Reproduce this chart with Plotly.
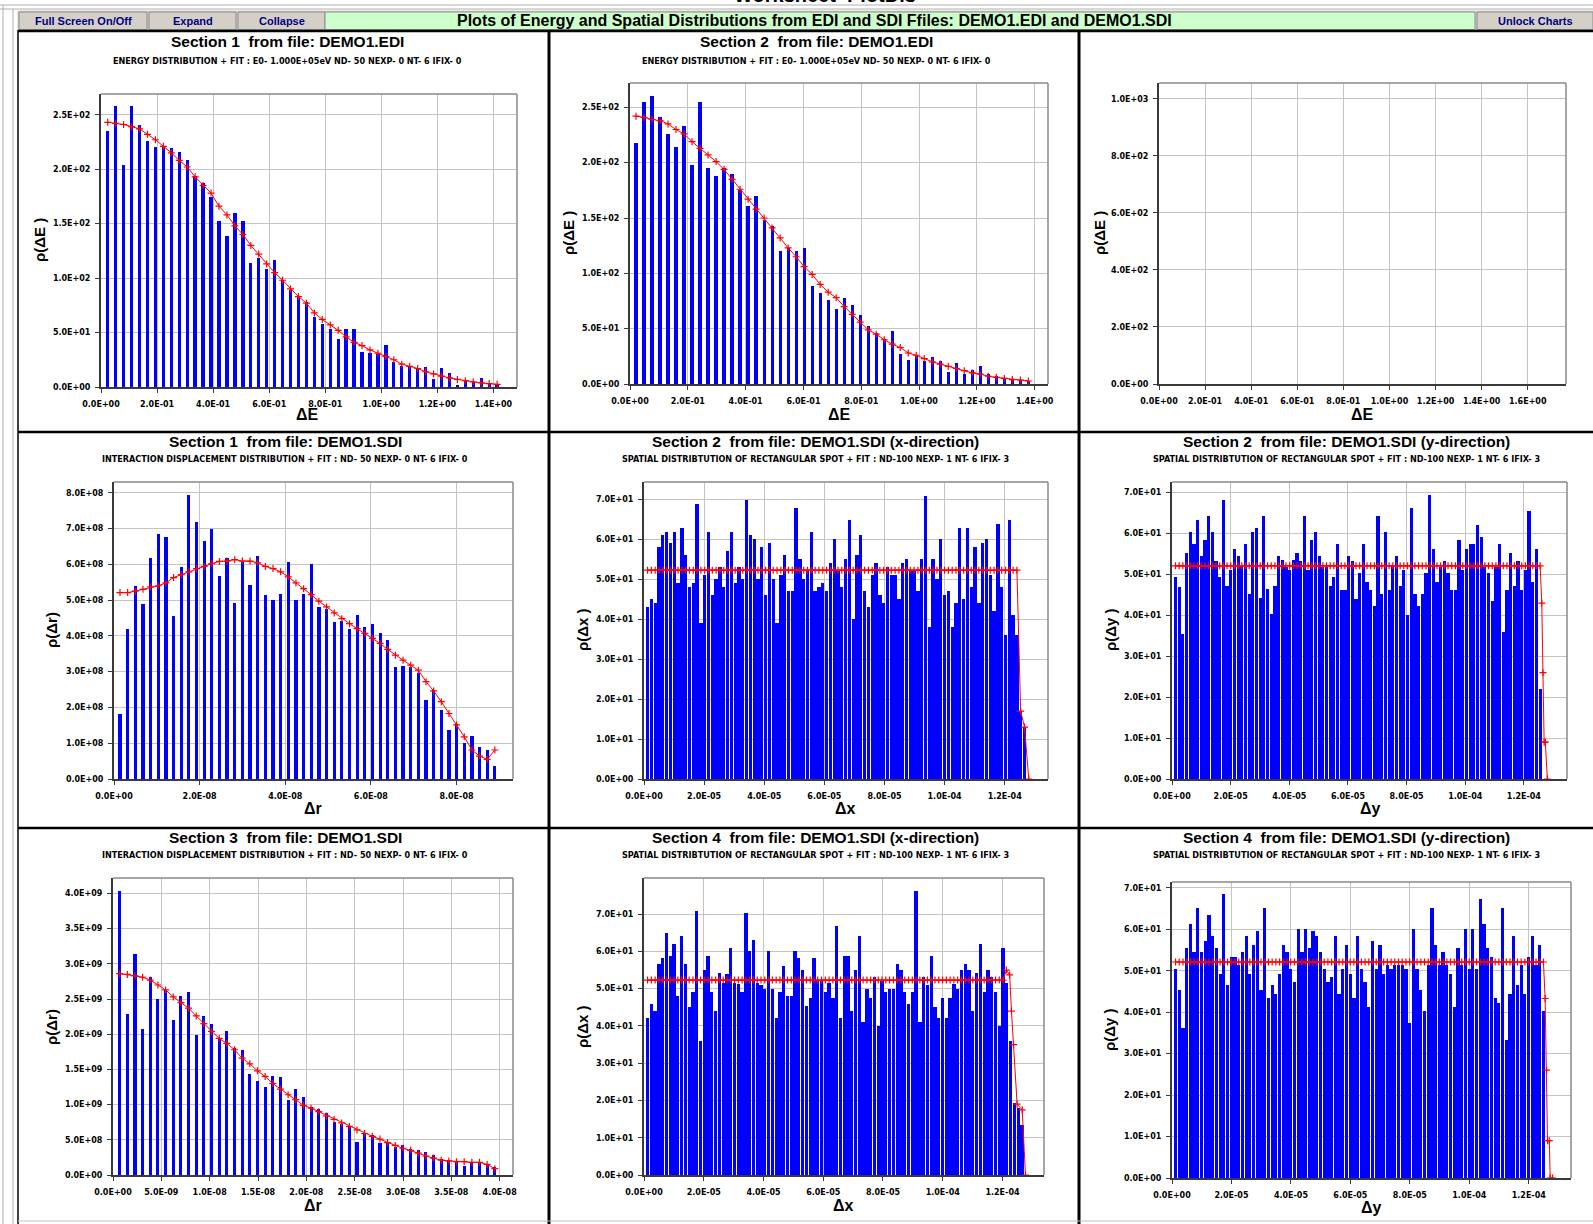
import plotly.graph_objects as go

W, H = 1593, 1224

# ======================= DATA =======================
# Section 1, DEMO1.EDI  (energy distribution, 50 bins)
e1_x0, e1_dx = 0.024, 0.02835
e1_counts = [235, 258, 204, 258, 241, 226, 220, 221, 219, 216, 208, 194, 187, 174, 152, 139, 160, 152, 114, 118,
             108, 117, 98, 89, 84, 78, 64, 58, 53, 44, 53, 53, 32, 31, 30, 39, 23, 19, 18, 17,
             18, 7, 17, 13, 2, 6, 5, 8, 3, 2]
e1_fit = [243, 242, 241, 239, 237, 232, 227, 221, 215, 208, 202, 193, 185, 178, 166, 158, 148, 140, 130, 122,
          113, 105, 98, 90, 83, 77, 68, 62, 57, 52, 46, 41, 38, 34, 31, 28, 25, 21, 19, 17,
          14, 12, 10, 8.3, 7, 5.8, 4.6, 3.7, 3.1, 2.5]

# Section 2, DEMO1.EDI
e2_x0, e2_dx = 0.0207, 0.0277
e2_counts = [218, 255, 260, 241, 226, 214, 233, 198, 255, 195, 188, 195, 190, 175, 161, 170, 148, 143, 120, 123,
             120, 123, 89, 82, 76, 68, 78, 71, 62, 52, 46, 41, 48, 27, 22, 25, 21, 24, 21, 11,
             19, 9, 13, 16, 9, 7, 4.5, 4.5, 3.3, 2.7]
e2_fit = [242, 241, 239, 238, 235, 230, 226, 219, 213, 207, 201, 194, 185, 176, 167, 158, 150, 141, 132, 123,
          115, 106, 99, 90, 83, 78, 70, 63, 56, 49, 45, 40, 36, 33, 28, 26, 23, 20, 18, 16,
          14, 12, 10, 9, 7, 6, 5, 4, 3.6, 2.7]

# Section 1, DEMO1.SDI (interaction displacement, 50 bins)
r1_x0, r1_dx = 0.14e-8, 0.1787e-8
r1_counts = [1.81e8, 4.2e8, 5.39e8, 4.88e8, 6.18e8, 6.86e8, 6.76e8, 4.55e8, 5.93e8, 7.94e8,
             7.18e8, 6.64e8, 6.98e8, 5.67e8, 6.19e8, 4.92e8, 6.07e8, 5.43e8, 6.22e8, 5.13e8,
             5.01e8, 5.16e8, 6.07e8, 5.01e8, 5.16e8, 6.0e8, 4.81e8, 4.74e8, 4.38e8, 4.42e8,
             4.18e8, 4.58e8, 4.25e8, 4.33e8, 4.08e8, 3.88e8, 3.12e8, 3.16e8, 3.13e8, 2.95e8,
             2.2e8, 2.48e8, 1.94e8, 1.37e8, 1.53e8, 1.01e8, 1.2e8, 0.9e8, 0.81e8, 0.36e8]
r1_fit = [5.21e8, 5.21e8, 5.25e8, 5.3e8, 5.37e8, 5.4e8, 5.48e8, 5.63e8, 5.71e8, 5.79e8,
          5.88e8, 5.94e8, 6.02e8, 6.08e8, 6.09e8, 6.13e8, 6.09e8, 6.09e8, 6.04e8, 5.94e8,
          5.88e8, 5.79e8, 5.65e8, 5.48e8, 5.32e8, 5.15e8, 4.97e8, 4.81e8, 4.64e8, 4.48e8,
          4.34e8, 4.2e8, 4.07e8, 3.93e8, 3.79e8, 3.62e8, 3.46e8, 3.32e8, 3.18e8, 3.04e8,
          2.72e8, 2.46e8, 2.16e8, 1.83e8, 1.51e8, 1.18e8, 0.81e8, 0.64e8, 0.55e8, 0.81e8]

# Section 3, DEMO1.SDI
r3_x0, r3_dx = 0.069e-8, 0.0792e-8
r3_counts = [4.04e9, 2.29e9, 3.14e9, 2.07e9, 2.82e9, 2.5e9, 2.63e9, 2.2e9, 2.55e9, 2.6e9,
             1.99e9, 2.26e9, 2.14e9, 1.93e9, 2.05e9, 1.81e9, 1.78e9, 1.43e9, 1.33e9, 1.25e9,
             1.41e9, 1.39e9, 1.07e9, 1.22e9, 1.11e9, 0.96e9, 0.94e9, 0.88e9, 0.76e9, 0.72e9,
             0.69e9, 0.47e9, 0.59e9, 0.57e9, 0.45e9, 0.47e9, 0.40e9, 0.43e9, 0.37e9, 0.35e9,
             0.33e9, 0.28e9, 0.23e9, 0.21e9, 0.2e9, 0.13e9, 0.19e9, 0.18e9, 0.16e9, 0.11e9]
r3_fit = [2.86e9, 2.85e9, 2.83e9, 2.81e9, 2.77e9, 2.7e9, 2.63e9, 2.53e9, 2.45e9, 2.37e9,
          2.26e9, 2.15e9, 2.04e9, 1.94e9, 1.87e9, 1.78e9, 1.66e9, 1.58e9, 1.48e9, 1.4e9,
          1.3e9, 1.22e9, 1.14e9, 1.07e9, 0.99e9, 0.95e9, 0.9e9, 0.84e9, 0.79e9, 0.74e9,
          0.69e9, 0.64e9, 0.59e9, 0.55e9, 0.51e9, 0.46e9, 0.42e9, 0.38e9, 0.35e9, 0.31e9,
          0.27e9, 0.24e9, 0.21e9, 0.2e9, 0.19e9, 0.19e9, 0.18e9, 0.18e9, 0.15e9, 0.09e9]

# Section 2, DEMO1.SDI x-direction (100 bins)
sx2_x0, sx2_dx = 1.19e-6, 1.2667e-6
sx2_counts = [43, 45, 44, 58, 61, 62, 59, 62, 49, 63, 56, 48, 49, 69, 39, 51, 62, 46, 50, 53,
              48, 57, 62, 49, 53, 50, 70, 61, 60, 50, 58, 46, 59, 50, 39, 51, 56, 47, 47, 68,
              55, 50, 52, 62, 47, 48, 49, 47, 54, 60, 52, 48, 55, 65, 40, 56, 61, 47, 43, 51,
              54, 46, 44, 53, 51, 51, 45, 54, 55, 52, 52, 47, 55, 71, 38, 55, 50, 60, 46, 47,
              38, 44, 63, 45, 63, 48, 58, 44, 59, 60, 51, 42, 64, 48, 36, 65, 41, 36, 17, 13]
sx2_fit_level, sx2_fit_n = 52.3, 98
sx2_fit_tail_x = [1.253e-4, 1.266e-4, 1.280e-4]
sx2_fit_tail = [17.0, 13.0, 0.0]

# Section 2, DEMO1.SDI y-direction
sy2_x0, sy2_dx = 1.19e-6, 1.256e-6
sy2_counts = [49.4, 47, 35.4, 55.2, 60.3, 57.4, 63.2, 54.4, 58.5, 64.4, 60.3, 53.3, 49.4, 68.3, 47.1, 51.2,
              56.3, 54.4, 52.2, 57.4, 45.3, 60.3, 61.4, 44.3, 64.4, 46.4, 40.3, 47.1, 54.4, 53.5, 51.8, 51.2,
              53.5, 55.2, 53.3, 64.4, 51.2, 58.5, 60.3, 54.4, 51.8, 51.8, 47.1, 49.4, 57.4, 46.3, 46.3, 54.4,
              53.3, 44.1, 50.4, 57.4, 48.2, 46.3, 42.3, 64.4, 45.3, 60.3, 46.3, 52.2, 54.4, 47.1, 51.2, 40,
              66.2, 45.3, 42.3, 45.3, 50.4, 69.5, 56.3, 48.2, 51.8, 53.3, 50.4, 46.3, 46.3, 58.5, 51.2, 56.3,
              57.4, 57.4, 62.2, 59.2, 51.8, 50.4, 43.4, 51.8, 57.4, 36, 46.3, 55.2, 47.1, 53.3, 46.3, 51.2,
              65.5, 48.2, 56.3, 22.1]
sy2_fit_level, sy2_fit_n = 52.1, 100
sy2_fit_tail_x = [1.261e-4, 1.265e-4, 1.269e-4, 1.273e-4, 1.280e-4]
sy2_fit_tail = [43.0, 26.0, 9.0, 9.0, 0.0]

# Section 4, DEMO1.SDI x-direction
sx4_x0, sx4_dx = 1.19e-6, 1.266e-6
sx4_counts = [42, 46, 44, 56.7, 58.1, 65, 58.9, 62.1, 48.1, 64.1, 56.7, 45.1, 49.2, 70.9, 36, 55, 58.8, 49.2,
              44.1, 54.1, 51.4, 53.9, 61, 51.4, 51.2, 49.2, 70.2, 60.1, 63, 51.4, 50.9, 50, 60.1, 50, 42, 49.2,
              56.1, 48.1, 48.1, 60.1, 58.1, 55, 45.4, 47.4, 58.1, 52.1, 52.1, 49.2, 51.4, 47.4, 66.8, 42, 58.8,
              58.8, 44.1, 55, 64.1, 41.1, 50, 47.4, 53.2, 40, 52.1, 49.2, 50, 50, 56.7, 55, 49.2, 46, 49.2,
              76.2, 41.1, 53.2, 51.1, 58.8, 45.1, 42, 47.4, 42, 47.4, 51.2, 50, 55, 56.7, 55, 44.1, 54.1, 62.1,
              49.2, 55, 53.2, 49.2, 40, 61, 51.4, 36, 19.2, 17.9, 13.4]
sx4_fit_level, sx4_fit_n = 52.3, 95
sx4_fit_tail_x = [1.213e-4, 1.224e-4, 1.230e-4, 1.237e-4, 1.249e-4, 1.266e-4, 1.277e-4]
sx4_fit_tail = [55.0, 53.7, 44.0, 35.0, 19.0, 17.5, 0.0]

# Section 4, DEMO1.SDI y-direction
sy4_x0, sy4_dx = 1.185e-6, 1.25e-6
sy4_counts = [50.4, 45.3, 36.3, 55.5, 61.2, 54.4, 65.2, 54.4, 57.2, 63.5, 58.3, 55.5, 49.2, 68.6, 46.5, 53.3,
              53.3, 51.3, 54.4, 58.3, 49.3, 56.1, 59.5, 45.3, 65.2, 43.3, 46.5, 44.3, 49.3, 56.1, 54.4, 50.4,
              47.2, 60.1, 54.4, 60.1, 55.5, 59.5, 58.3, 54.4, 50.4, 47.2, 48.4, 58.3, 44.3, 50.4, 56.1, 49.3,
              43.3, 58.3, 50.4, 47.2, 41.3, 57.2, 50.4, 56.1, 49.3, 51.3, 50.4, 51.3, 51.3, 51.3, 50.4, 37.4,
              60.1, 50.4, 45.3, 40.3, 51.3, 65.2, 56.1, 51.3, 54.4, 51.3, 49.3, 41.3, 55.5, 51.3, 60.1, 50.4,
              60.1, 50.4, 67.4, 61.2, 55.5, 53.3, 43.3, 42.1, 65.2, 33.4, 44.3, 58.3, 46.5, 51.3, 44.3, 53.3,
              58.3, 51.3, 56.1, 40.3]
sy4_fit_level, sy4_fit_n = 52.1, 100
sy4_fit_tail_x = [1.255e-4, 1.260e-4, 1.263e-4, 1.269e-4, 1.272e-4, 1.280e-4]
sy4_fit_tail = [43.3, 26.0, 9.0, 9.0, 0.0, 0.0]

# Text
main_title = "Plots of Energy and Spatial Distributions from EDI and SDI Ffiles: DEMO1.EDI and DEMO1.SDI"
buttons = ["Full Screen On/Off", "Expand", "Collapse", "Unlock Charts"]
sub_edi = "ENERGY DISTRIBUTION + FIT : E0- 1.000E+05eV ND- 50 NEXP- 0 NT- 6 IFIX- 0"
sub_r = "INTERACTION DISPLACEMENT DISTRIBUTION + FIT : ND- 50 NEXP- 0 NT- 6 IFIX- 0"
sub_s = "SPATIAL DISTRIBTUTION OF RECTANGULAR SPOT + FIT : ND-100 NEXP- 1 NT- 6 IFIX- 3"

# ======================= HELPERS =======================
def px(x):
    return x / W


def py(y):
    return 1 - y / H


def centers(x0, dx, n):
    return [x0 + dx * i for i in range(n)]


def fmt(v):
    return f"{v:.1E}"


def ticks(step, n):
    return [round(step * i, 14) for i in range(n)]


BLUE = "#0000ff"
RED = "#ff0000"
TICKFONT = dict(family="DejaVu Sans", size=8, color="#000000", weight="bold")

panels = [
    dict(box=(101, 94, 517, 387), xr=[0, 1.484], yr=[0, 269], xt=ticks(0.2, 8), yt=ticks(50, 6),
         title="Section 1  from file: DEMO1.EDI", sub=sub_edi, tx=287, ty=42, sy=61,
         xlab="ΔE", xl=(307, 414), ylab="ρ(ΔE )", yl=(40, 240)),
    dict(box=(630, 83, 1048, 384), xr=[0, 1.446], yr=[0, 272], xt=ticks(0.2, 8), yt=ticks(50, 6),
         title="Section 2  from file: DEMO1.EDI", sub=sub_edi, tx=816, ty=42, sy=61,
         xlab="ΔE", xl=(840, 414), ylab="ρ(ΔE )", yl=(568, 233)),
    dict(box=(1159, 83, 1566, 384), xr=[0, 1.766], yr=[0, 1055], xt=ticks(0.2, 9), yt=ticks(200, 6),
         title=None, sub=None, xlab="ΔE", xl=(1362, 414), ylab="ρ(ΔE )", yl=(1099, 233)),
    dict(box=(114, 482, 513, 779), xr=[0, 9.32e-8], yr=[0, 8.3e8], xt=ticks(2e-8, 5), yt=ticks(1e8, 9),
         title="Section 1  from file: DEMO1.SDI", sub=sub_r, tx=285, ty=441, sy=459,
         xlab="Δr", xl=(313, 808), ylab="ρ(Δr)", yl=(52, 630)),
    dict(box=(644, 482, 1048, 779), xr=[0, 1.344e-4], yr=[0, 74.4], xt=ticks(2e-5, 7), yt=ticks(10, 8),
         title="Section 2  from file: DEMO1.SDI (x-direction)", sub=sub_s, tx=815, ty=441, sy=459,
         xlab="Δx", xl=(845, 808), ylab="ρ(Δx )", yl=(583, 630)),
    dict(box=(1172, 482, 1567, 779), xr=[0, 1.347e-4], yr=[0, 72.6], xt=ticks(2e-5, 7), yt=ticks(10, 8),
         title="Section 2  from file: DEMO1.SDI (y-direction)", sub=sub_s, tx=1346, ty=441, sy=459,
         xlab="Δy", xl=(1370, 808), ylab="ρ(Δy )", yl=(1111, 630)),
    dict(box=(113, 878, 513, 1175), xr=[0, 4.138e-8], yr=[0, 4.22e9], xt=ticks(5e-9, 9), yt=ticks(5e8, 9),
         title="Section 3  from file: DEMO1.SDI", sub=sub_r, tx=285, ty=837, sy=855,
         xlab="Δr", xl=(313, 1205), ylab="ρ(Δr)", yl=(51, 1027)),
    dict(box=(644, 878, 1044, 1175), xr=[0, 1.339e-4], yr=[0, 79.7], xt=ticks(2e-5, 7), yt=ticks(10, 8),
         title="Section 4  from file: DEMO1.SDI (x-direction)", sub=sub_s, tx=815, ty=837, sy=855,
         xlab="Δx", xl=(843, 1205), ylab="ρ(Δx )", yl=(582, 1027)),
    dict(box=(1172, 882, 1571, 1178), xr=[0, 1.342e-4], yr=[0, 71.4], xt=ticks(2e-5, 7), yt=ticks(10, 8),
         title="Section 4  from file: DEMO1.SDI (y-direction)", sub=sub_s, tx=1346, ty=837, sy=855,
         xlab="Δy", xl=(1371, 1207), ylab="ρ(Δy )", yl=(1109, 1030)),
]

fig = go.Figure()


def add_hist(idx, x0, dx, counts, frac):
    xs = centers(x0, dx, len(counts))
    sfx = "" if idx == 1 else str(idx)
    fig.add_trace(go.Bar(x=xs, y=counts, width=dx * frac, marker=dict(color=BLUE, line=dict(width=0)),
                         xaxis="x" + sfx, yaxis="y" + sfx, hoverinfo="skip"))


def add_fit(idx, xs, ys):
    sfx = "" if idx == 1 else str(idx)
    fig.add_trace(go.Scatter(x=xs, y=ys, mode="lines+markers",
                             line=dict(color=RED, width=1),
                             marker=dict(symbol="cross-thin", size=5, line=dict(color=RED, width=1.2)),
                             xaxis="x" + sfx, yaxis="y" + sfx, hoverinfo="skip"))


add_hist(1, e1_x0, e1_dx, e1_counts, 0.42)
add_fit(1, centers(e1_x0, e1_dx, len(e1_fit)), e1_fit)
add_hist(2, e2_x0, e2_dx, e2_counts, 0.4)
add_fit(2, centers(e2_x0, e2_dx, len(e2_fit)), e2_fit)
add_hist(4, r1_x0, r1_dx, r1_counts, 0.42)
add_fit(4, centers(r1_x0, r1_dx, len(r1_fit)), r1_fit)
add_hist(7, r3_x0, r3_dx, r3_counts, 0.4)
add_fit(7, centers(r3_x0, r3_dx, len(r3_fit)), r3_fit)

for idx, x0, dx, cnt, lvl, n, tx, ty in [
    (5, sx2_x0, sx2_dx, sx2_counts, sx2_fit_level, sx2_fit_n, sx2_fit_tail_x, sx2_fit_tail),
    (6, sy2_x0, sy2_dx, sy2_counts, sy2_fit_level, sy2_fit_n, sy2_fit_tail_x, sy2_fit_tail),
    (8, sx4_x0, sx4_dx, sx4_counts, sx4_fit_level, sx4_fit_n, sx4_fit_tail_x, sx4_fit_tail),
    (9, sy4_x0, sy4_dx, sy4_counts, sy4_fit_level, sy4_fit_n, sy4_fit_tail_x, sy4_fit_tail),
]:
    add_hist(idx, x0, dx, cnt, 0.87)
    add_fit(idx, centers(x0, dx, n) + tx, [lvl] * n + ty)

fig.add_trace(go.Scatter(x=[], y=[], xaxis="x3", yaxis="y3", hoverinfo="skip"))

layout = dict(width=W, height=H, margin=dict(l=0, r=0, t=0, b=0, pad=0, autoexpand=False), showlegend=False,
              paper_bgcolor="white", plot_bgcolor="white", bargap=0, autosize=False)
shapes = []
annotations = []

for i, p in enumerate(panels, start=1):
    sfx = "" if i == 1 else str(i)
    l, t, r, b = p["box"]
    common = dict(showgrid=True, gridcolor="#c4c4c4", gridwidth=1, showline=True, linecolor="#3a3a3a",
                  linewidth=2, ticks="outside", ticklen=4, tickwidth=1, tickcolor="#3a3a3a",
                  zeroline=False, tickfont=TICKFONT, fixedrange=True, tickmode="array", automargin=False)
    layout["xaxis" + sfx] = dict(common, domain=[px(l), px(r)], range=p["xr"], anchor="y" + sfx,
                                 tickvals=p["xt"], ticktext=[fmt(v) for v in p["xt"]], ticklabelstandoff=4)
    layout["yaxis" + sfx] = dict(common, domain=[py(b), py(t)], range=p["yr"], anchor="x" + sfx,
                                 tickvals=p["yt"], ticktext=[fmt(v) for v in p["yt"]], ticklabelstandoff=3)
    xd, yd = "x" + sfx + " domain", "y" + sfx + " domain"
    shapes.append(dict(type="line", xref=xd, yref=yd, x0=0, x1=1, y0=1, y1=1,
                       line=dict(color="#8a8a8a", width=1.5)))
    shapes.append(dict(type="line", xref=xd, yref=yd, x0=1, x1=1, y0=0, y1=1,
                       line=dict(color="#8a8a8a", width=1.5)))
    if p["title"]:
        annotations.append(dict(text=p["title"], x=px(p["tx"]), y=py(p["ty"]), xref="paper", yref="paper",
                                showarrow=False, xanchor="center", yanchor="middle",
                                font=dict(family="Liberation Sans", size=15.5, color="black", weight="bold")))
        annotations.append(dict(text=p["sub"], x=px(p["tx"]), y=py(p["sy"]), xref="paper", yref="paper",
                                showarrow=False, xanchor="center", yanchor="middle",
                                font=dict(family="Liberation Sans Narrow, DejaVu Sans Condensed, Liberation Sans",
                                          size=9, color="black", weight="bold")))
    annotations.append(dict(text=p["xlab"], x=px(p["xl"][0]), y=py(p["xl"][1]), xref="paper", yref="paper",
                            showarrow=False, xanchor="center", yanchor="middle",
                            font=dict(family="Liberation Sans", size=16, color="black", weight="bold")))
    annotations.append(dict(text=p["ylab"], x=px(p["yl"][0]), y=py(p["yl"][1]), xref="paper", yref="paper",
                            showarrow=False, xanchor="center", yanchor="middle", textangle=-90,
                            font=dict(family="Liberation Sans", size=15, color="black", weight="bold")))


def rect(x0, y0, x1, y1, fill, line="#808080", lw=1, layer="below"):
    shapes.append(dict(type="rect", xref="paper", yref="paper", x0=px(x0), x1=px(x1), y0=py(y1), y1=py(y0),
                       fillcolor=fill, line=dict(color=line, width=lw), layer=layer))


def hline(y, x0, x1, color, w):
    shapes.append(dict(type="line", xref="paper", yref="paper", x0=px(x0), x1=px(x1), y0=py(y), y1=py(y),
                       line=dict(color=color, width=w), layer="above"))


def vline(x, y0, y1, color, w):
    shapes.append(dict(type="line", xref="paper", yref="paper", x0=px(x), x1=px(x), y0=py(y0), y1=py(y1),
                       line=dict(color=color, width=w), layer="above"))


# window frame
hline(5, 0, W, "#b0b0b0", 1)
hline(9, 0, W, "#b0b0b0", 1)
vline(3, 5, H, "#b0b0b0", 1)
vline(13, 9, H, "#b0b0b0", 1)

# toolbar
rect(18, 11, W, 30, "#d4d0c8", line="#d4d0c8")
btn_boxes = [(19, 147), (149, 236), (238, 325), (1477, 1593)]
for (bx0, bx1), label in zip(btn_boxes, buttons):
    rect(bx0, 12, bx1, 29.5, "#d4d0c8", line="#8c8c8c", lw=1)
    annotations.append(dict(text=label, x=px((bx0 + bx1) / 2), y=py(20.5), xref="paper", yref="paper",
                            showarrow=False, xanchor="center", yanchor="middle",
                            font=dict(family="Liberation Sans Narrow, Liberation Sans", size=11,
                                      color="#000080", weight="bold")))
rect(325, 12, 1475, 29.5, "#ccffcc", line="#8c8c8c", lw=1)
annotations.append(dict(text=main_title, x=px(814), y=py(20.5), xref="paper", yref="paper", showarrow=False,
                        xanchor="center", yanchor="middle",
                        font=dict(family="Liberation Sans", size=16, color="black", weight="bold")))
annotations.append(dict(text="Worksheet  PlotDis", x=px(825), y=py(8), xref="paper", yref="paper",
                        showarrow=False, xanchor="center", yanchor="bottom",
                        font=dict(family="Liberation Sans", size=20, color="black", weight="bold")))

# panel dividers
hline(31, 18, W, "#000000", 2.5)
hline(432, 18, W, "#000000", 2.5)
hline(828, 18, W, "#000000", 2.5)
vline(18, 30, H, "#000000", 1.5)
vline(549, 30, H, "#000000", 3)
vline(1079, 30, H, "#000000", 3)
hline(1221, 18, W, "#c0c0c0", 1)

layout["shapes"] = shapes
layout["annotations"] = annotations
fig.update_layout(**layout)

fig.write_html("out.html")
